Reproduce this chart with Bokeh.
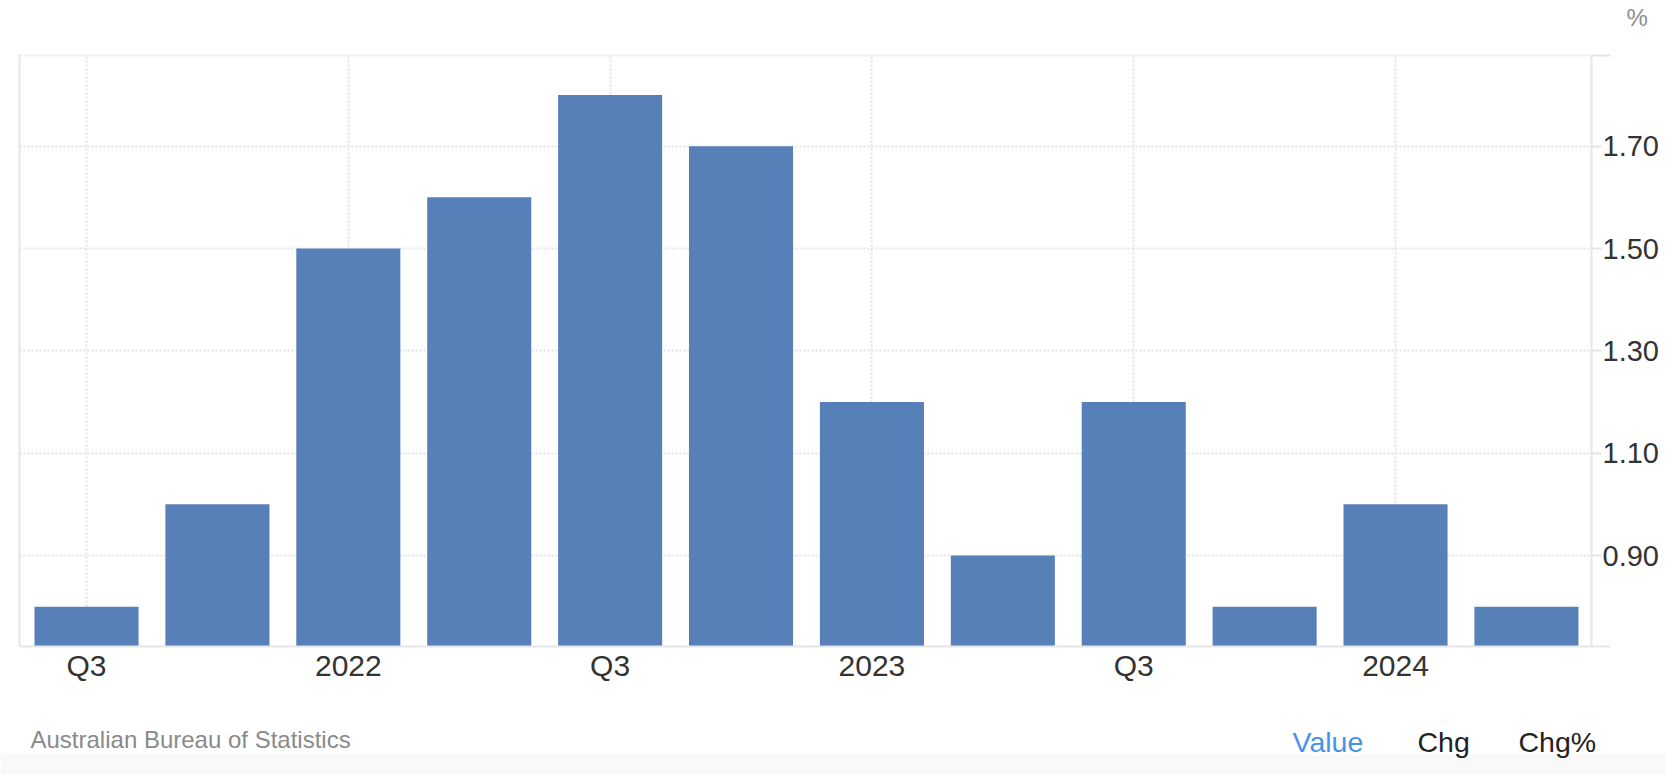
from bokeh.plotting import figure
from bokeh.models import (FixedTicker, Label, Range1d, ColumnDataSource, NumeralTickFormatter,
                          LinearAxis, BoxAnnotation)
from bokeh.embed import file_html
from bokeh.resources import INLINE

# ---- data ----
quarters = ["Q3 2021", "Q4 2021", "Q1 2022", "Q2 2022", "Q3 2022", "Q4 2022",
            "Q1 2023", "Q2 2023", "Q3 2023", "Q4 2023", "Q1 2024", "Q2 2024"]
values = [0.8, 1.0, 1.5, 1.6, 1.8, 1.7, 1.2, 0.9, 1.2, 0.8, 1.0, 0.8]
x_tick_positions = [0, 2, 4, 6, 8, 10]
x_tick_labels = ["Q3", "2022", "Q3", "2023", "Q3", "2024"]
y_ticks = [0.9, 1.1, 1.3, 1.5, 1.7]
source_text = "Australian Bureau of Statistics"
unit_text = "%"
buttons = ["Value", "Chg", "Chg%"]

FONT = "Liberation Sans"
GRID = "#e2e2e2"
AXIS = "#e6e6e6"

src = ColumnDataSource(dict(x=list(range(len(values))), v=values, q=quarters))

# plot-area limits (data) and their page-pixel edges
y0, y1 = 0.7222, 1.8772
x0, x1 = -0.512, 11.497
W, H = 1666, 774
FL, FT, FR, FB = 19, 55, 1591, 646

sx = (x1 - x0) / (FR - FL)   # data units per pixel
sy = (y1 - y0) / (FB - FT)

def px_x(px):
    return x0 + (px - FL) * sx

def px_y(py):
    return y0 + (FB - py) * sy

# the frame covers the whole canvas so that all texts can be drawn inside it
p = figure(width=W, height=H, output_backend="svg", toolbar_location=None,
           x_range=Range1d(px_x(0), px_x(W)), y_range=Range1d(px_y(H), px_y(0)),
           y_axis_location="right", min_border=0,
           min_border_left=0, min_border_right=0, min_border_top=0, min_border_bottom=0)
p.outline_line_color = None
p.background_fill_color = "white"
p.border_fill_color = "white"

# faint band at the very bottom of the page
p.add_layout(BoxAnnotation(bottom=px_y(H), top=px_y(754), left=px_x(0), right=px_x(W),
                           fill_color="#f9f9f9", fill_alpha=1.0, line_color=None, level="underlay"))

p.vbar(x="x", top="v", bottom=y0, width=0.795, source=src,
       fill_color="#5880b8", line_color=None)

# x axis (placed at the bottom of the plot area)
xa = p.xaxis[0]
xa.fixed_location = y0
xa.bounds = (x0, x1)
xa.ticker = FixedTicker(ticks=x_tick_positions)
xa.major_label_overrides = {t: l for t, l in zip(x_tick_positions, x_tick_labels)}
xa.axis_line_color = AXIS
xa.axis_line_width = 2
xa.major_tick_line_color = None
xa.minor_tick_line_color = None
xa.major_label_text_font = FONT
xa.major_label_text_font_size = "30px"
xa.major_label_text_color = "#333333"
xa.major_label_standoff = -4

# y axis (at the right edge of the plot area)
ya = p.yaxis[0]
ya.fixed_location = x1
ya.bounds = (y0, y1)
ya.ticker = FixedTicker(ticks=y_ticks)
ya.formatter = NumeralTickFormatter(format="0.00")
ya.axis_line_color = AXIS
ya.axis_line_width = 2
ya.major_tick_line_color = AXIS
ya.major_tick_line_width = 2
ya.major_tick_out = 10
ya.major_tick_in = 0
ya.minor_tick_line_color = None
ya.major_label_text_font = FONT
ya.major_label_text_font_size = "29px"
ya.major_label_text_color = "#333333"
ya.major_label_standoff = 1

# longer end ticks at the top and bottom of the right axis
p.segment(x0=[x1, x1], y0=[y0, y1], x1=[px_x(FR + 19)] * 2, y1=[y0, y1],
          line_color=AXIS, line_width=2)

# left border line of the plot area
la = LinearAxis(fixed_location=x0, bounds=(y0, y1), ticker=FixedTicker(ticks=[]),
                axis_line_color=AXIS, axis_line_width=2,
                major_tick_line_color=None, minor_tick_line_color=None)
p.add_layout(la, "left")

# grids limited to the plot area
p.xgrid.cross_bounds = (y0, y1)
p.ygrid.cross_bounds = (x0, x1)
p.ygrid.ticker = FixedTicker(ticks=y_ticks + [y1])
for g in (p.xgrid, p.ygrid):
    g.grid_line_color = GRID
    g.grid_line_dash = "2 2"
    g.grid_line_width = 2

# texts
p.add_layout(Label(x=px_x(1626), y=px_y(17), text=unit_text,
                   text_font=FONT, text_font_size="24px", text_color="#8c8c8c",
                   text_baseline="middle", text_align="left"))
p.add_layout(Label(x=px_x(30), y=px_y(739), text=source_text,
                   text_font=FONT, text_font_size="24px", text_color="#8a8a8a",
                   text_baseline="middle", text_align="left"))
btn_px = [1292, 1417, 1518]
btn_colors = ["#4593e8", "#222222", "#222222"]
for bx, bt, bc in zip(btn_px, buttons, btn_colors):
    p.add_layout(Label(x=px_x(bx), y=px_y(741), text=bt,
                       text_font=FONT, text_font_size="28.5px", text_color=bc,
                       text_baseline="middle", text_align="left"))

open("out.html", "w").write(file_html(p, INLINE))
